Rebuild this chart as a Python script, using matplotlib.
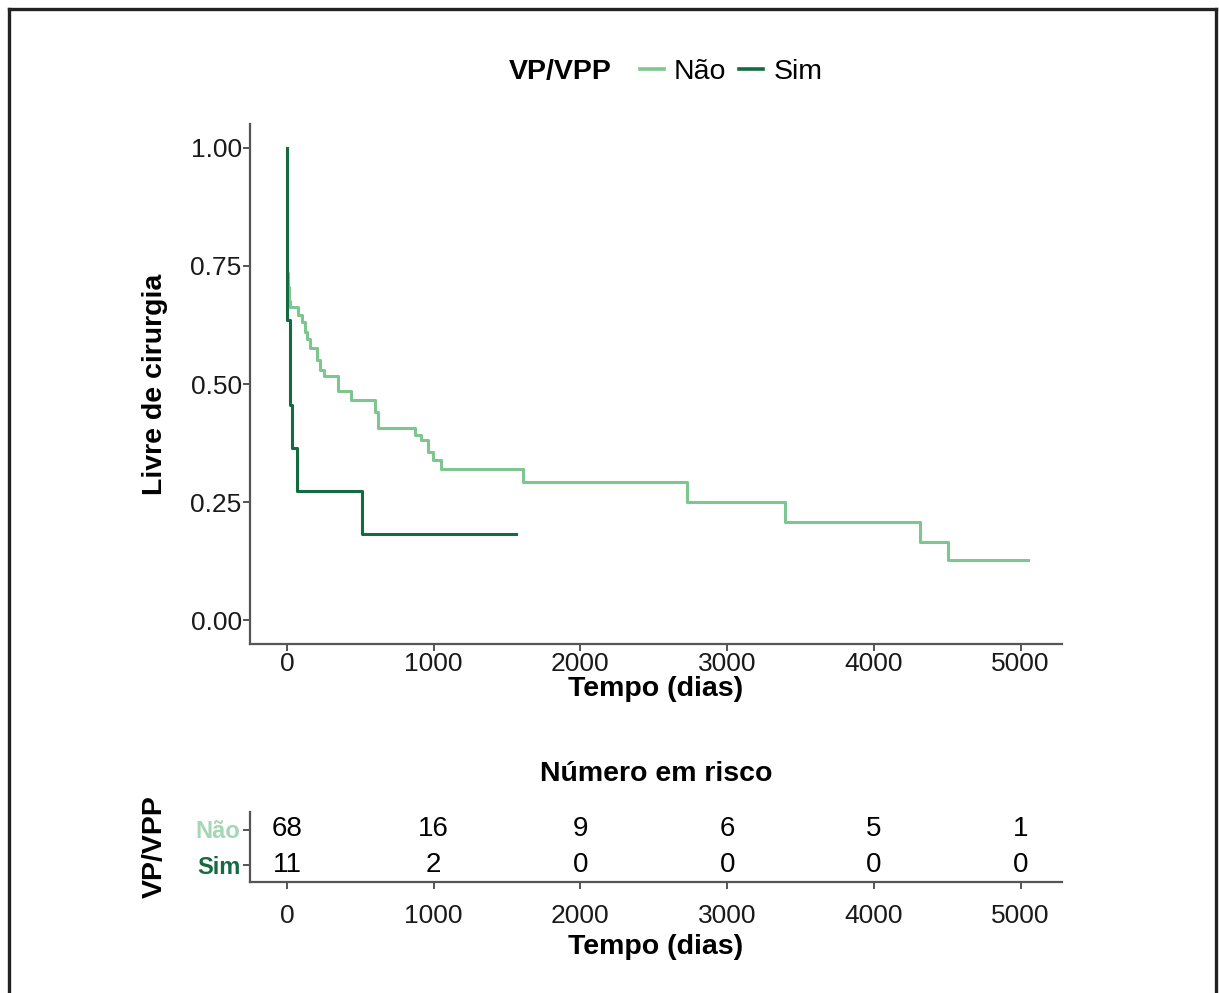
import numpy as np
import matplotlib
matplotlib.use("Agg")
import matplotlib.pyplot as plt
from matplotlib.lines import Line2D

plt.rcParams['font.family'] = ['Liberation Sans', 'DejaVu Sans']

# Kaplan-Meier steps (time in days, survival after the step)
nao_t = [0, 1, 5, 8, 12, 16, 20, 77, 100, 122, 140, 156, 202, 224, 255, 349, 440,
         599, 621, 871, 916, 961, 995, 1052, 1608, 2723, 3395, 4313, 4506, 5050]
nao_s = [1.0, 0.735, 0.72, 0.706, 0.691, 0.676, 0.662, 0.647, 0.632, 0.610, 0.595,
         0.577, 0.551, 0.530, 0.516, 0.485, 0.466, 0.44, 0.406, 0.392, 0.381, 0.356,
         0.339, 0.320, 0.293, 0.251, 0.208, 0.166, 0.127, 0.127]

sim_t = [0, 1, 2, 3, 4, 20, 22, 35, 68, 515, 1563]
sim_s = [1.0, 0.909, 0.818, 0.727, 0.636, 0.545, 0.455, 0.364, 0.273, 0.182, 0.182]

# number at risk table
risk_times = [0, 1000, 2000, 3000, 4000, 5000]
risk_nao = [68, 16, 9, 6, 5, 1]
risk_sim = [11, 2, 0, 0, 0, 0]

groups = ["Não", "Sim"]
light = "#7dc68f"
dark = "#146b41"
label_light = "#a5d6b5"
axis_col = "#555555"

W, H = 1219, 993
fig = plt.figure(figsize=(W / 100, H / 100), dpi=100)


def fx(px):
    return px / W


def fy(py):
    return 1 - py / H


xlim = (-251.5, 5281.5)
tick_fs = 19
title_fs = 20.5

# main survival axes
ax = fig.add_axes([fx(250), fy(644), fx(1062) - fx(250), fy(124) - fy(644)])
ax.step(nao_t, nao_s, where="post", color=light, lw=2.2, label=groups[0])
ax.step(sim_t, sim_s, where="post", color=dark, lw=2.2, label=groups[1])
ax.set_xlim(*xlim)
ax.set_ylim(-0.05, 1.05)
ax.set_xticks(risk_times)
ax.set_yticks([0, 0.25, 0.5, 0.75, 1.0])
ax.set_yticklabels(["0.00", "0.25", "0.50", "0.75", "1.00"])
for sp in ["top", "right"]:
    ax.spines[sp].set_visible(False)
for sp in ["left", "bottom"]:
    ax.spines[sp].set_color(axis_col)
    ax.spines[sp].set_linewidth(1.6)
ax.tick_params(labelsize=tick_fs, colors="#1a1a1a", length=5, width=1.4, pad=1)
ax.tick_params(axis="both", color=axis_col)
ax.set_xlabel("Tempo (dias)", fontsize=title_fs, fontweight="bold", labelpad=0)
ax.set_ylabel("Livre de cirurgia", fontsize=title_fs, fontweight="bold", labelpad=16)

# legend
fig.text(fx(560), fy(72), "VP/VPP", fontsize=title_fs, fontweight="bold",
         ha="center", va="center")
handles = [Line2D([], [], color=light, lw=2.6), Line2D([], [], color=dark, lw=2.6)]
fig.legend(handles, groups, ncol=2, loc="center left",
           bbox_to_anchor=(fx(614), fy(72)), frameon=False, fontsize=title_fs,
           handlelength=0.85, handletextpad=0.35, columnspacing=0.45)

# risk table axes
rt = fig.add_axes([fx(250), fy(882), fx(1062) - fx(250), fy(812) - fy(882)])
rt.set_xlim(*xlim)
rt.set_ylim(0.5, 2.5)
for x, n1, n2 in zip(risk_times, risk_nao, risk_sim):
    rt.text(x, 2, str(n1), fontsize=tick_fs + 1, ha="center", va="center")
    rt.text(x, 1, str(n2), fontsize=tick_fs + 1, ha="center", va="center")
rt.set_xticks(risk_times)
rt.set_yticks([2, 1])
rt.set_yticklabels(groups, fontweight="bold")
for lab, c in zip(rt.get_yticklabels(), [label_light, dark]):
    lab.set_color(c)
for sp in ["top", "right"]:
    rt.spines[sp].set_visible(False)
for sp in ["left", "bottom"]:
    rt.spines[sp].set_color(axis_col)
    rt.spines[sp].set_linewidth(1.6)
rt.tick_params(axis="x", labelsize=tick_fs, colors="#1a1a1a", length=5, width=1.4, pad=11)
rt.tick_params(axis="y", labelsize=17, length=5, width=1.4, pad=2)
rt.tick_params(axis="both", color=axis_col)
rt.set_xlabel("Tempo (dias)", fontsize=title_fs, fontweight="bold", labelpad=4)
rt.set_ylabel("VP/VPP", fontsize=title_fs, fontweight="bold", labelpad=20)
rt.set_title("Número em risco", fontsize=title_fs, fontweight="bold", pad=22)

# outer frame (open at the bottom)
frame_kw = dict(color="#222222", lw=2.4, transform=fig.transFigure)
fig.add_artist(Line2D([fx(9), fx(9)], [fy(9), 0], **frame_kw))
fig.add_artist(Line2D([fx(9), fx(1216)], [fy(9), fy(9)], **frame_kw))
fig.add_artist(Line2D([fx(1216), fx(1216)], [fy(9), 0], **frame_kw))

fig.savefig("out.png", dpi=100)
